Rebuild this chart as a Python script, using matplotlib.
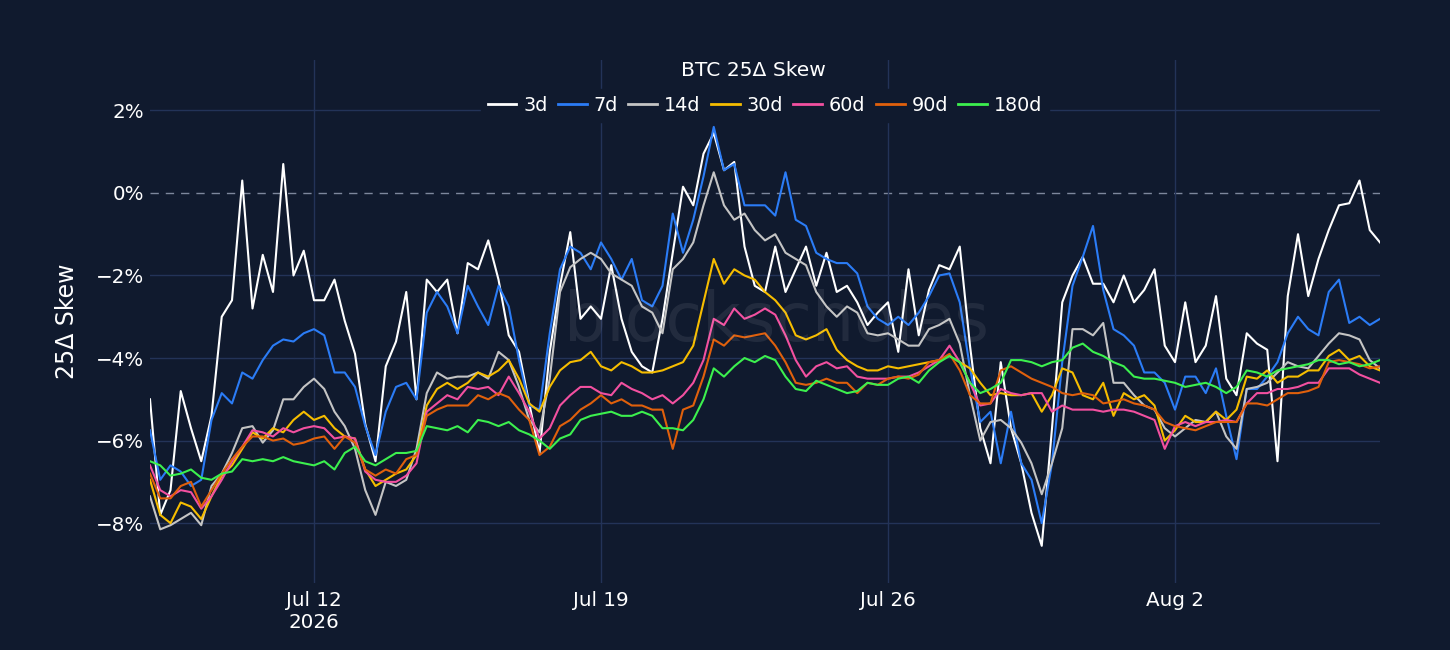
import matplotlib
matplotlib.use("Agg")
import matplotlib.pyplot as plt
import pandas as pd

# 6-hourly samples, Jul 8 2026 00:00 -> Aug 7 2026 00:00
times = pd.date_range("2026-07-08", periods=121, freq="6h")

skew_3d = [
    -5.0, -7.8, -7.2, -4.8, -5.7, -6.5, -5.4, -3.0, -2.6, 0.3, -2.8, -1.5, -2.4, 0.7, -2.0, -1.4,
    -2.6, -2.6, -2.1, -3.1, -3.9, -5.6, -6.5, -4.2, -3.6, -2.4, -5.0, -2.1, -2.4, -2.1, -3.4,
    -1.7, -1.85, -1.15, -2.1, -3.45, -3.85, -5.1, -6.3, -3.85, -2.25, -0.95, -3.05, -2.75, -3.05,
    -1.75, -3.05, -3.85, -4.2, -4.35, -3.05, -1.45, 0.15, -0.3, 0.95, 1.45, 0.55, 0.75, -1.3,
    -2.25, -2.4, -1.3, -2.4, -1.85, -1.3, -2.25, -1.45, -2.4, -2.25, -2.65, -3.2, -2.9, -2.65,
    -3.85, -1.85, -3.45,
    -2.35, -1.75, -1.85, -1.3, -3.7, -5.7, -6.55, -4.1, -5.7, -6.55, -7.75, -8.55, -5.7, -2.65,
    -2.0, -1.55, -2.2, -2.2, -2.65, -2.0, -2.65, -2.35, -1.85, -3.7, -4.1, -2.65, -4.1, -3.7,
    -2.5, -4.5, -4.9, -3.4, -3.65, -3.8, -6.5, -2.5, -1.0, -2.5, -1.6, -0.9, -0.3, -0.25, 0.3,
    -0.9, -1.2,
]
skew_7d = [
    -5.75, -6.95, -6.6, -6.75, -7.1, -6.95, -5.5, -4.85, -5.1, -4.35, -4.5, -4.05, -3.7, -3.55,
    -3.6, -3.4, -3.3, -3.45, -4.35, -4.35, -4.7, -5.65, -6.35, -5.3, -4.7, -4.6, -5.0, -2.9, -2.4,
    -2.75, -3.4,
    -2.25, -2.75, -3.2, -2.25, -2.75, -4.05, -5.15, -5.25, -3.4, -1.85, -1.3, -1.45, -1.85, -1.2,
    -1.6, -2.1, -1.6, -2.6, -2.75, -2.25, -0.5, -1.45, -0.65, 0.4, 1.6, 0.55, 0.7, -0.3, -0.3,
    -0.3, -0.55, 0.5, -0.65, -0.8, -1.45, -1.6, -1.7, -1.7, -1.95, -2.75, -3.05, -3.2, -3.0, -3.2,
    -2.9,
    -2.5, -2.0, -1.95, -2.65, -4.25, -5.55, -5.3, -6.55, -5.3, -6.55, -6.95, -8.0, -6.55, -4.1,
    -2.25, -1.55, -0.8, -2.35, -3.3, -3.45, -3.7, -4.35, -4.35, -4.6, -5.25, -4.45, -4.45, -4.85,
    -4.25, -5.4, -6.45, -4.75, -4.75, -4.45, -4.1, -3.4, -3.0, -3.3, -3.45, -2.4, -2.1, -3.15,
    -3.0, -3.2, -3.05,
]
skew_14d = [
    -7.35, -8.15, -8.05, -7.9, -7.75, -8.05, -7.1, -6.8, -6.3, -5.7, -5.65, -6.05, -5.75, -5.0,
    -5.0, -4.7, -4.5, -4.75, -5.3, -5.65, -6.2, -7.2, -7.8, -7.0, -7.1, -6.95, -6.2, -4.85, -4.35,
    -4.5, -4.45,
    -4.45, -4.35, -4.5, -3.85, -4.05, -4.7, -5.5, -5.8, -4.5, -2.4, -1.8, -1.6, -1.45, -1.6, -1.95,
    -2.1, -2.25, -2.75, -2.9, -3.4, -1.85, -1.6, -1.2, -0.3, 0.5, -0.3, -0.65, -0.5, -0.9, -1.15,
    -1.0, -1.45, -1.6, -1.75, -2.4, -2.75, -3.0, -2.75, -2.9, -3.4, -3.45, -3.4, -3.55, -3.7, -3.7,
    -3.3, -3.2, -3.05, -3.65, -4.9, -6.0, -5.55, -5.5, -5.7, -6.05, -6.55, -7.3, -6.55, -5.7, -3.3,
    -3.3, -3.45, -3.15, -4.6, -4.6, -4.9, -5.15, -5.25, -5.7, -5.9, -5.7, -5.5, -5.55, -5.3, -5.9,
    -6.2, -4.75, -4.7, -4.6, -4.35, -4.1, -4.2, -4.25, -3.95, -3.65, -3.4, -3.45, -3.55, -4.05,
    -4.25,
]
skew_30d = [
    -6.95, -7.8, -8.0, -7.5, -7.6, -7.9, -7.35, -6.85, -6.6, -6.2, -5.8, -5.95, -5.7, -5.8, -5.5,
    -5.3, -5.5, -5.4, -5.7, -5.9, -5.95, -6.7, -7.1, -6.95, -6.8, -6.7, -6.35, -5.15, -4.75, -4.6,
    -4.75,
    -4.6, -4.35, -4.45, -4.3, -4.05, -4.5, -5.1, -5.3, -4.7, -4.3, -4.1, -4.05, -3.85, -4.2, -4.3,
    -4.1, -4.2, -4.35, -4.35, -4.3, -4.2, -4.1, -3.7, -2.65, -1.6, -2.2, -1.85, -2.0, -2.1, -2.4,
    -2.6, -2.9, -3.45, -3.55, -3.45, -3.3, -3.8, -4.05, -4.2, -4.3, -4.3, -4.2, -4.25, -4.2, -4.15,
    -4.1, -4.05, -3.95, -4.1, -4.25, -4.6, -4.9, -4.85, -4.9, -4.9, -4.85, -5.3, -4.9, -4.25, -4.35,
    -4.9, -5.0, -4.6, -5.4, -4.85, -5.0, -4.9, -5.15, -6.0, -5.75, -5.4, -5.55, -5.55, -5.3, -5.5,
    -5.25, -4.45, -4.5, -4.3, -4.6, -4.45, -4.45, -4.3, -4.3, -3.95, -3.8, -4.05, -3.95, -4.2,
    -4.3,
]
skew_60d = [
    -6.6, -7.2, -7.35, -7.2, -7.25, -7.65, -7.35, -6.95, -6.5, -6.15, -5.75, -5.8, -5.9, -5.7,
    -5.8, -5.7, -5.65, -5.7, -5.95, -5.9, -5.95, -6.75, -6.95, -7.0, -7.0, -6.85, -6.55, -5.3,
    -5.1, -4.9, -5.0,
    -4.7, -4.75, -4.7, -4.9, -4.45, -4.85, -5.3, -5.95, -5.7, -5.15, -4.9, -4.7, -4.7, -4.85, -4.9,
    -4.6, -4.75, -4.85, -5.0, -4.9, -5.1, -4.9, -4.6, -4.05, -3.05, -3.2, -2.8, -3.05, -2.95, -2.8,
    -2.95, -3.45, -4.05, -4.45, -4.2, -4.1, -4.25, -4.2, -4.45, -4.5, -4.5, -4.5, -4.45, -4.45,
    -4.35,
    -4.2, -4.05, -3.7, -4.1, -4.6, -5.15, -5.1, -4.75, -4.85, -4.9, -4.85, -4.85, -5.3, -5.15,
    -5.25, -5.25, -5.25, -5.3, -5.25, -5.25, -5.3, -5.4, -5.5, -6.2, -5.65, -5.55, -5.65, -5.55,
    -5.55, -5.5, -5.55, -5.1, -4.85, -4.85, -4.75, -4.75, -4.7, -4.6, -4.6, -4.25, -4.25, -4.25,
    -4.4, -4.5, -4.6,
]
skew_90d = [
    -6.8, -7.4, -7.4, -7.1, -7.0, -7.6, -7.2, -6.8, -6.45, -6.15, -5.9, -5.9, -6.0, -5.95, -6.1,
    -6.05, -5.95, -5.9, -6.2, -5.9, -6.05, -6.7, -6.85, -6.7, -6.8, -6.45, -6.35, -5.4, -5.25,
    -5.15, -5.15,
    -5.15, -4.9, -5.0, -4.85, -4.95, -5.25, -5.5, -6.35, -6.15, -5.65, -5.5, -5.25, -5.1, -4.9,
    -5.1, -5.0, -5.15, -5.15, -5.25, -5.25, -6.2, -5.25, -5.15, -4.45, -3.55, -3.7, -3.45, -3.5,
    -3.45, -3.4, -3.7, -4.1, -4.6, -4.65, -4.6, -4.5, -4.6, -4.6, -4.85, -4.6, -4.65, -4.5, -4.45,
    -4.5, -4.4,
    -4.1, -4.05, -3.9, -4.3, -4.9, -5.1, -5.1, -4.3, -4.2, -4.35, -4.5, -4.6, -4.7, -4.85, -4.9,
    -4.85, -4.9, -5.1, -5.05, -5.0, -5.1, -5.15, -5.25, -5.55, -5.65, -5.7, -5.75, -5.65, -5.55,
    -5.55, -5.55, -5.1, -5.1, -5.15, -5.0, -4.85, -4.85, -4.8, -4.7, -4.1, -4.05, -4.1, -4.15,
    -4.25, -4.2,
]
skew_180d = [
    -6.5, -6.6, -6.85, -6.8, -6.7, -6.9, -6.95, -6.8, -6.75, -6.45, -6.5, -6.45, -6.5, -6.4, -6.5,
    -6.55, -6.6, -6.5, -6.7, -6.3, -6.15, -6.5, -6.6, -6.45, -6.3, -6.3, -6.25, -5.65, -5.7, -5.75,
    -5.65,
    -5.8, -5.5, -5.55, -5.65, -5.55, -5.75, -5.85, -6.0, -6.2, -5.95, -5.85, -5.5, -5.4, -5.35,
    -5.3, -5.4, -5.4, -5.3, -5.4, -5.7, -5.7, -5.75, -5.5, -5.0, -4.25, -4.45, -4.2, -4.0, -4.1,
    -3.95, -4.05, -4.45, -4.75, -4.8, -4.55, -4.65, -4.75, -4.85, -4.8, -4.6, -4.65, -4.65, -4.5,
    -4.45, -4.6,
    -4.3, -4.1, -3.95, -4.1, -4.6, -4.85, -4.75, -4.6, -4.05, -4.05, -4.1, -4.2, -4.1, -4.05,
    -3.75, -3.65, -3.85, -3.95, -4.1, -4.2, -4.45, -4.5, -4.5, -4.55, -4.6, -4.7, -4.65, -4.6,
    -4.7, -4.85, -4.7, -4.3, -4.35, -4.45, -4.3, -4.25, -4.2, -4.15, -4.05, -4.05, -4.15, -4.1,
    -4.2, -4.15, -4.05,
]

series_names = ["3d", "7d", "14d", "30d", "60d", "90d", "180d"]
series_values = [skew_3d, skew_7d, skew_14d, skew_30d, skew_60d, skew_90d, skew_180d]
series_colors = ["#ffffff", "#2b7cf6", "#c4c4c4", "#f6bd00", "#f250a0", "#e0600c", "#3cf04e"]

tick_dates = ["2026-07-12", "2026-07-19", "2026-07-26", "2026-08-02"]
tick_labels = ["Jul 12\n2026", "Jul 19", "Jul 26", "Aug 2"]
y_ticks = [-8, -6, -4, -2, 0, 2]

bg = "#101a2e"
grid = "#233358"

fig = plt.figure(figsize=(14.5, 6.5), dpi=100, facecolor=bg)
ax = fig.add_axes([150 / 1450, 1 - 583 / 650, 1230 / 1450, 523 / 650])
ax.set_facecolor(bg)

for name, vals, col in zip(series_names, series_values, series_colors):
    ax.plot(times, vals, color=col, lw=1.5, label=name, zorder=2)

ax.set_xlim(times[0], times[-1])
ax.set_ylim(-9.45, 3.22)

ax.set_xticks(pd.to_datetime(tick_dates))
ax.set_xticklabels(tick_labels)
ax.set_yticks(y_ticks)
ax.set_yticklabels([f"{v}%".replace("-", "\u2212") for v in y_ticks])

for v in y_ticks:
    if v != 0:
        ax.axhline(v, color=grid, lw=1, zorder=1)
ax.axhline(0, color="#7d879c", lw=1, ls=(0, (6, 5)), zorder=1)
for d in tick_dates:
    ax.axvline(pd.Timestamp(d), color=grid, lw=1, zorder=1)

for s in ax.spines.values():
    s.set_visible(False)
ax.tick_params(axis="both", length=0, colors="white", labelsize=14.3)
ax.tick_params(axis="y", pad=4.5)
ax.tick_params(axis="x", pad=6)

# faint watermark
fig.text(776 / 1450, 1 - 322 / 650, "blockscholes", fontsize=48, color="white",
         alpha=0.08, ha="center", va="center", zorder=3)

fig.text(67 / 1450, 1 - 321 / 650, "25\u0394 Skew", rotation=90, fontsize=17,
         color="white", ha="center", va="center")
fig.text(753 / 1450, 1 - 71 / 650, "BTC 25\u0394 Skew", fontsize=14.6,
         color="white", ha="center", va="center")

leg = ax.legend(loc="center", bbox_to_anchor=((765 - 150) / 1230, (583 - 105.5) / 523),
                ncol=7, fontsize=13.8, frameon=True, facecolor=bg, edgecolor=bg,
                framealpha=1, fancybox=False, handlelength=1.5, handletextpad=0.35,
                columnspacing=0.55, borderpad=0.35, borderaxespad=0)
for t in leg.get_texts():
    t.set_color("white")
for h in leg.get_lines():
    h.set_linewidth(2)

fig.savefig("out.png", dpi=100, facecolor=bg)
